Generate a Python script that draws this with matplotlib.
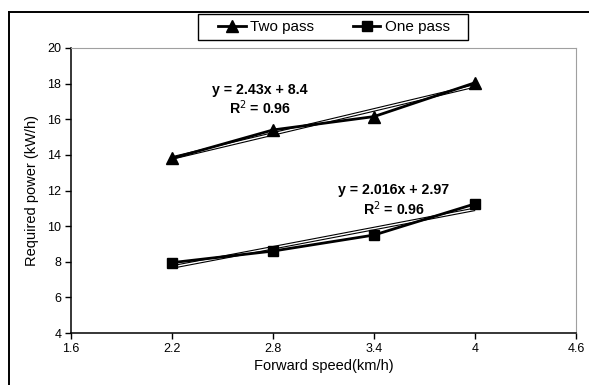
import matplotlib
import numpy as np

matplotlib.use("Agg")
import matplotlib.pyplot as plt  # noqa: E402
from matplotlib.lines import Line2D  # noqa: E402
from matplotlib.patches import Rectangle  # noqa: E402

plt.rcParams["font.family"] = ["Liberation Sans", "DejaVu Sans"]

# Dados
speed = [2.2, 2.8, 3.4, 4.0]
two_pass = [13.8, 15.4, 16.15, 18.05]
one_pass = [7.95, 8.6, 9.5, 11.25]
x_ticks = [1.6, 2.2, 2.8, 3.4, 4.0, 4.6]
x_tick_labels = ["1.6", "2.2", "2.8", "3.4", "4", "4.6"]
y_ticks = [4, 6, 8, 10, 12, 14, 16, 18, 20]
eq_two = ["y = 2.43x + 8.4", "R$^2$ = 0.96"]
eq_one = ["y = 2.016x + 2.97", "R$^2$ = 0.96"]

W, H = 589, 385
fig = plt.figure(figsize=(W / 100, H / 100), dpi=100, facecolor="white")
ax = fig.add_axes([71 / W, 1 - 333 / H, (576 - 71) / W, (333 - 48) / H])

xs = np.array(speed)
for serie, marker, ms in ((two_pass, "^", 8), (one_pass, "s", 7)):
    # linha de tendência (Excel): contorno preto com miolo branco
    a, b = np.polyfit(xs, serie, 1)
    tx = np.array([xs[0], xs[-1]])
    ax.plot(tx, a * tx + b, color="black", lw=2.6, zorder=2,
            solid_capstyle="butt")
    ax.plot(tx, a * tx + b, color="white", lw=1.0, zorder=3,
            solid_capstyle="butt")
    ax.plot(xs, serie, color="black", lw=2.0, marker=marker, ms=ms,
            zorder=4)

eq_kw = dict(ha="center", va="center", fontsize=10.2, fontweight="bold")
ax.text(2.723, 17.64, eq_two[0], **eq_kw)
ax.text(2.723, 16.63, eq_two[1], **eq_kw)
ax.text(3.519, 12.02, eq_one[0], **eq_kw)
ax.text(3.519, 10.96, eq_one[1], **eq_kw)

ax.set_xlim(1.6, 4.6)
ax.set_ylim(4, 20)
ax.set_xticks(x_ticks)
ax.set_xticklabels(x_tick_labels)
ax.set_yticks(y_ticks)
ax.tick_params(direction="out", length=4, width=1, labelsize=9, pad=3,
               colors="black")
ax.spines["top"].set_color("#a0a0a0")
ax.spines["right"].set_color("#a0a0a0")
ax.spines["left"].set_linewidth(1.1)
ax.spines["bottom"].set_linewidth(1.1)

ax.set_xlabel("Forward speed(km/h)", fontsize=10.5, labelpad=3)
ax.set_ylabel("Required power (kW/h)", fontsize=10.5, labelpad=6)

# Legenda: moldura desenhada à parte, entradas espalhadas dentro dela
handles = [
    Line2D([0], [0], color="black", lw=2.0, marker="^", ms=8,
           label="Two pass"),
    Line2D([0], [0], color="black", lw=2.0, marker="s", ms=7,
           label="One pass"),
]
fig.add_artist(Rectangle((198 / W, 1 - 39.5 / H), 270 / W, 25.5 / H,
                         transform=fig.transFigure, facecolor="white",
                         edgecolor="black", lw=1.0))
fig.legend(handles=handles, loc="center",
           bbox_to_anchor=(218 / W, 1 - 40 / H, 232 / W, 26 / H),
           mode="expand", ncol=2, fontsize=11, frameon=False,
           handlelength=1.8, handletextpad=0.3, borderpad=0,
           borderaxespad=0)

# moldura externa (só esquerda e topo aparecem no recorte)
fig.add_artist(Line2D([9 / W, 9 / W], [0, 1 - 12 / H], color="black",
                      lw=1.4, transform=fig.transFigure))
fig.add_artist(Line2D([9 / W, 1], [1 - 12 / H, 1 - 12 / H], color="black",
                      lw=1.4, transform=fig.transFigure))

fig.savefig("out.png", dpi=100, facecolor="white")
